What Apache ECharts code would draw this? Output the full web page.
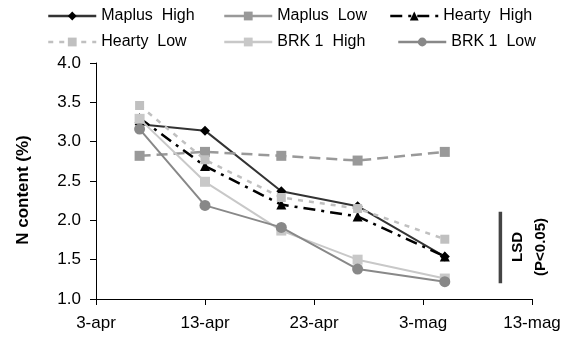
<!DOCTYPE html>
<html>
<head>
<meta charset="utf-8">
<script src="https://cdn.jsdelivr.net/npm/echarts@6/dist/echarts.min.js"></script>
<style>html,body{margin:0;padding:0;background:#fff}#c{width:576px;height:343px}</style>
</head>
<body>
<div id="c"></div>
<script>
// days after 3-apr
var sampleDays = [4, 10, 17, 24, 32];
var xTickLabels = ['3-apr', '13-apr', '23-apr', '3-mag', '13-mag'];
var seriesNames = ['Maplus  High', 'Maplus  Low', 'Hearty  High', 'Hearty  Low', 'BRK 1  High', 'BRK 1  Low'];
var maplusHigh = [3.22, 3.14, 2.37, 2.18, 1.54];
var maplusLow  = [2.82, 2.87, 2.82, 2.76, 2.87];
var heartyHigh = [3.30, 2.69, 2.20, 2.05, 1.54];
var heartyLow  = [3.46, 2.77, 2.29, 2.15, 1.76];
var brk1High   = [3.29, 2.49, 1.87, 1.50, 1.26];
var brk1Low    = [3.16, 2.19, 1.91, 1.38, 1.22];
var lsdDay = 37.1;
var lsdRange = [2.11, 1.20];

function pairs(vals){ return vals.map(function(v,i){ return [sampleDays[i], v]; }); }

var styles = [
  {line:'#333333', sym:'diamond', symColor:'#000000', type:'solid', w:2, size:10, legendType:'solid'},
  {line:'#999999', sym:'rect', symColor:'#999999', type:[11,6], w:2.5, size:10, legendType:'solid'},
  {line:'#000000', sym:'triangle', symColor:'#000000', type:[12,6,3,6], w:2.5, size:10, legendType:[12,6,3,6]},
  {line:'#c0c0c0', sym:'rect', symColor:'#c0c0c0', type:[5,6], w:2.5, size:9, legendType:[5,6]},
  {line:'#c8c8c8', sym:'rect', symColor:'#c8c8c8', type:'solid', w:2, size:10, legendType:'solid'},
  {line:'#888888', sym:'circle', symColor:'#888888', type:'solid', w:2, size:11, legendType:'solid'}
];
var allData = [maplusHigh, maplusLow, heartyHigh, heartyLow, brk1High, brk1Low];

var series = allData.map(function(d, i){
  var s = styles[i];
  return {
    name: seriesNames[i], type:'line', data: pairs(d),
    symbol: s.sym, symbolSize: s.size,
    lineStyle:{color:s.line, width:s.w, type:s.type},
    itemStyle:{color:s.symColor},
    z: 2 + i, animation:false
  };
});
series.push({
  name:'LSD', type:'line', data:[[lsdDay, lsdRange[0]],[lsdDay, lsdRange[1]]],
  symbol:'none', lineStyle:{color:'#444444', width:3.5}, silent:true, animation:false
});

var legendPos = [
  {left:42, top:3}, {left:218, top:3}, {left:384, top:3},
  {left:42, top:29}, {left:218, top:29}, {left:392, top:29}
];
var legends = seriesNames.map(function(n, i){
  return {
    data:[{name:n, lineStyle:{width:2.5, type:styles[i].legendType}}],
    left:legendPos[i].left, top:legendPos[i].top,
    itemWidth:48, itemHeight:11, orient:'horizontal',
    textStyle:{fontFamily:'Liberation Sans', fontSize:16, color:'#000'},
    selectedMode:false
  };
});

var chart = echarts.init(document.getElementById('c'), null, {renderer:'canvas'});
chart.setOption({
  backgroundColor:'#fff',
  animation:false,
  legend: legends,
  grid:{left:96, right:44, top:63, bottom:44, containLabel:false},
  xAxis:{
    type:'value', min:0, max:40, interval:10,
    axisLine:{lineStyle:{color:'#000', width:1}},
    axisTick:{show:true, inside:false, length:6, lineStyle:{color:'#000'}},
    splitLine:{show:false},
    axisLabel:{margin:16, fontFamily:'Liberation Sans', fontSize:17, color:'#000',
      formatter:function(v){ return xTickLabels[Math.round(v/10)]; }}
  },
  yAxis:{
    type:'value', min:1, max:4, interval:0.5,
    name:'N content (%)', nameLocation:'middle', nameGap:64,
    nameTextStyle:{fontFamily:'Liberation Sans', fontSize:17, fontWeight:'bold', color:'#000', padding:[0,18,0,0]},
    axisLine:{show:true, lineStyle:{color:'#000', width:1}},
    axisTick:{show:true, inside:false, length:6, lineStyle:{color:'#000'}},
    splitLine:{show:false},
    axisLabel:{margin:15, fontFamily:'Liberation Sans', fontSize:17, color:'#000',
      formatter:function(v){ return v.toFixed(1); }}
  },
  graphic:[{
    type:'text', x:529, y:247, rotation:Math.PI/2,
    style:{text:'LSD\n(P<0.05)', fontFamily:'Liberation Sans', fontSize:15, fontWeight:'bold',
      fill:'#000', align:'center', verticalAlign:'middle', lineHeight:23}
  }],
  series: series
});
</script>
</body>
</html>
